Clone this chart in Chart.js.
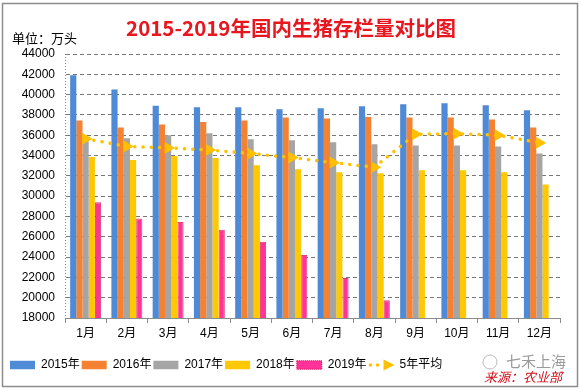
<!DOCTYPE html>
<html>
<head>
<meta charset="utf-8">
<script src="https://cdn.jsdelivr.net/npm/chart.js@4/dist/chart.umd.min.js"></script>
<style>
  html, body { margin: 0; padding: 0; background: #fff; }
  #wrap { width: 581px; height: 390px; position: relative; }
</style>
</head>
<body>
<div id="wrap"><canvas id="c" width="581" height="390"></canvas></div>
<script>
const titleText = '2015-2019年国内生猪存栏量对比图';
const unitLabel = '单位：万头';
const categories = ['1月','2月','3月','4月','5月','6月','7月','8月','9月','10月','11月','12月'];
const seriesNames = ['2015年','2016年','2017年','2018年','2019年','5年平均'];
const y2015 = [41900,40500,38900,38750,38750,38550,38650,38850,39050,39150,38950,38450];
const y2016 = [37450,36750,37050,37300,37450,37750,37650,37800,37750,37750,37550,36750];
const y2017 = [35700,35700,36000,36200,35600,35500,35300,35100,35000,35000,34900,34200];
const y2018 = [33850,33550,33950,33750,33050,32650,32350,32250,32550,32550,32350,31150];
const y2019 = [29400,27800,27450,26700,25500,24200,21950,19750,null,null,null,null];
const avg5  = [35650,34900,34750,34550,34200,33800,33300,32850,36100,36150,36000,35250];
const yTickValues = [18000,20000,22000,24000,26000,28000,30000,32000,34000,36000,38000,40000,42000,44000];
const watermarkText = '七禾上海';
const sourceText = '来源：农业部';

const barColors = ['#4F8AD6','#F58233','#A5A5A5','#FFC800','#FF3399'];
const lineColor = '#FFC000';
const FONT = '"Liberation Sans", "Noto Sans CJK SC", sans-serif';

const barData = [y2015, y2016, y2017, y2018, y2019];
const datasets = barData.map((d, i) => ({
  type: 'bar',
  label: seriesNames[i],
  data: d,
  backgroundColor: barColors[i],
  borderColor: i === 4 ? 'rgba(215,0,70,0.75)' : barColors[i],
  borderWidth: i === 4 ? 1 : 0,
  categoryPercentage: 0.75,
  barPercentage: 1.0,
  order: 2
}));
datasets.push({
  type: 'line',
  label: seriesNames[5],
  data: avg5,
  borderColor: lineColor,
  borderWidth: 3.5,
  borderDash: [0.1, 8.2],
  borderCapStyle: 'round',
  fill: false,
  tension: 0,
  pointStyle: 'triangle',
  rotation: 90,
  pointRadius: 6,
  pointHoverRadius: 6,
  pointBackgroundColor: lineColor,
  pointBorderColor: lineColor,
  pointBorderWidth: 1,
  order: 0
});

const decor = {
  id: 'decor',
  beforeDraw(chart) {
    const c = chart.ctx;
    c.save();
    c.fillStyle = '#fff';
    c.fillRect(0, 0, chart.width, chart.height);
    c.restore();
  },
  afterDraw(chart) {
    const c = chart.ctx;
    const a = chart.chartArea;
    c.save();
    // dotted y axis line
    c.strokeStyle = '#8c8c8c';
    c.lineWidth = 1;
    c.setLineDash([1, 2]);
    c.beginPath();
    c.moveTo(Math.round(a.left) + 0.5, a.top);
    c.lineTo(Math.round(a.left) + 0.5, a.bottom);
    c.stroke();
    c.setLineDash([]);
    // unit label
    c.font = '13px "Noto Sans CJK SC", sans-serif';
    c.fillStyle = '#000';
    c.textAlign = 'left';
    c.textBaseline = 'middle';
    c.fillText(unitLabel, 12, 38);
    // legend sample for line series
    const hb = chart.legend.legendHitBoxes[5];
    if (hb) {
      const cy = hb.top + hb.height / 2;
      c.fillStyle = lineColor;
      [hb.left + 2, hb.left + 9].forEach(x => {
        c.beginPath(); c.arc(x, cy, 1.8, 0, Math.PI * 2); c.fill();
      });
      c.beginPath();
      c.moveTo(hb.left + 15, cy - 5.5);
      c.lineTo(hb.left + 26, cy);
      c.lineTo(hb.left + 15, cy + 5.5);
      c.closePath();
      c.fill();
    }
    // watermark / source
    c.strokeStyle = '#bbb';
    c.lineWidth = 1;
    c.beginPath(); c.arc(490, 362, 7, 0, Math.PI * 2); c.stroke();
    c.font = '15px "Noto Sans CJK SC", sans-serif';
    c.fillStyle = '#9a9a9a';
    c.fillText(watermarkText, 506, 361);
    c.font = 'italic 13px "Noto Sans CJK SC", sans-serif';
    c.fillStyle = '#D0101A';
    c.fillText(sourceText, 484, 377);
    // outer frame
    c.strokeStyle = '#8c8c8c';
    c.lineWidth = 1.5;
    c.strokeRect(2.5, 3.5, 575, 383);
    c.restore();
  }
};

new Chart(document.getElementById('c'), {
  data: { labels: categories, datasets },
  plugins: [decor],
  options: {
    responsive: false,
    animation: false,
    events: [],
    layout: { padding: { left: 8, right: 7, top: 0, bottom: 9 } },
    plugins: {
      title: {
        display: true,
        text: titleText,
        color: '#E8161E',
        font: { family: '"Noto Sans CJK SC", sans-serif', size: 20.5, weight: 'bold', lineHeight: 1.2 },
        padding: { top: 16, bottom: 13.4 }
      },
      legend: {
        display: true,
        position: 'bottom',
        align: 'start',
        labels: {
          boxWidth: 25,
          boxHeight: 8.5,
          padding: 2,
          color: '#000',
          font: { family: FONT, size: 12 },
          sort: (a, b) => a.datasetIndex - b.datasetIndex,
          generateLabels(chart) {
            const items = Chart.defaults.plugins.legend.labels.generateLabels(chart);
            items.forEach(it => {
              if (it.datasetIndex === 4) {
                it.strokeStyle = '#D0004A';
                it.lineWidth = 1;
                it.lineDash = [1, 1];
              } else if (it.datasetIndex === 5) {
                it.fillStyle = 'rgba(0,0,0,0)';
                it.strokeStyle = 'rgba(0,0,0,0)';
                it.lineWidth = 0;
                it.lineDash = [];
              } else {
                it.lineWidth = 0;
              }
            });
            return items;
          }
        }
      },
      tooltip: { enabled: false }
    },
    scales: {
      x: {
        type: 'category',
        offset: true,
        grid: {
          display: true,
          offset: true,
          drawOnChartArea: false,
          drawTicks: true,
          tickLength: 5,
          color: '#8c8c8c'
        },
        border: { display: true, color: '#8c8c8c', width: 1 },
        ticks: { color: '#000', font: { family: FONT, size: 12 }, padding: 3, maxRotation: 0, autoSkip: false },
        afterFit(s) { s.height = 39; }
      },
      y: {
        type: 'linear',
        position: 'left',
        min: 18000,
        max: 44000,
        afterBuildTicks(s) { s.ticks = yTickValues.map(v => ({ value: v })); },
        grid: {
          display: true,
          drawTicks: false,
          color: ctx => (ctx.tick && ctx.tick.value === 18000) ? 'rgba(0,0,0,0)' : '#777777',
          lineWidth: 1
        },
        border: { display: true, color: 'rgba(0,0,0,0)', dash: [4, 3] },
        ticks: {
          color: '#000',
          font: { family: FONT, size: 12 },
          padding: 10,
          callback: v => String(v)
        },
        afterFit(s) { s.width = 57; }
      },
      yR: {
        type: 'linear',
        position: 'right',
        display: true,
        grid: { display: false, drawTicks: false },
        border: { display: false },
        ticks: { display: false },
        afterFit(s) { s.width = 14; }
      }
    }
  }
});
</script>
</body>
</html>
